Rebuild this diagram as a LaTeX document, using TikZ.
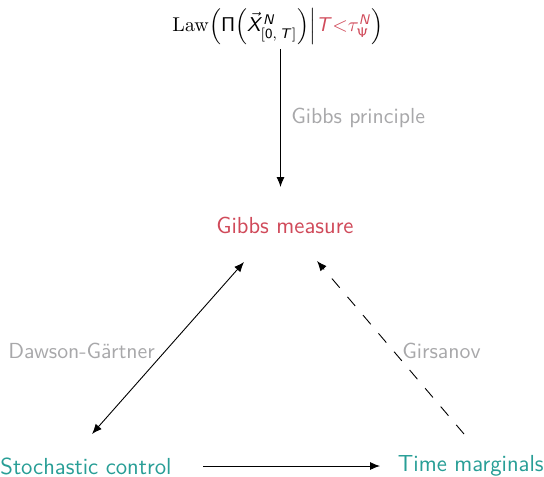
\documentclass[tikz,border=0pt]{standalone}
\usetikzlibrary{arrows.meta}
\DeclareMathAlphabet{\mathsfit}{OT1}{cmss}{m}{sl}
\definecolor{gred}{RGB}{208,74,90}
\definecolor{gteal}{RGB}{40,158,150}
\definecolor{glab}{RGB}{168,168,170}
\tikzset{
  txt/.style={font=\fontsize{11.6}{14}\sffamily, inner sep=0pt},
  lab/.style={font=\fontsize{10.9}{13}\sffamily, inner sep=0pt, text=glab},
  arr/.style={-{Latex[length=5pt,width=4pt]}, line width=0.45pt},
}
\begin{document}
\begin{tikzpicture}[x=0.5pt,y=-0.5pt]
\useasboundingbox (0,0) rectangle (544,476);
\node[font=\fontsize{10.4}{13}\selectfont, inner sep=0pt] (law) at (278,27) {$\mathrm{Law}\!\left(\mathsf{\Pi}\!\left(\vec{\mathsfit{X}}^{\mathsfit{N}}_{[\mathsf{0},\,\mathsfit{T}]}\right)\middle|{\color{gred}\mathsfit{T}{<}\tau^{\mathsfit{N}}_{\mathsf{\Psi}}}\right)$};
\node[txt, text=gred] (gm) at (285,225) {Gibbs measure};
\node[txt, text=gteal, anchor=west] (sc) at (0,466) {Stochastic control};
\node[txt, text=gteal, anchor=east] (tm) at (544,466) {Time marginals};
\coordinate (a1) at (280.5,49);
\coordinate (a2) at (280.5,187);
\draw[arr] (a1) -- (a2);
\node[lab, anchor=west] (lgp) at (291,118) {Gibbs principle};
\coordinate (d1) at (244,262);
\coordinate (d2) at (92,434);
\draw[arr, {Latex[length=5pt,width=4pt]}-{Latex[length=5pt,width=4pt]}] (d1) -- (d2);
\node[lab, anchor=west] (ldg) at (8,351) {Dawson-Gärtner};
\coordinate (g1) at (464,434);
\coordinate (g2) at (317,261);
\draw[arr, dashed, dash pattern=on 6pt off 6pt] (g1) -- (g2);
\node[lab, anchor=west] (lgi) at (402,351) {Girsanov};
\coordinate (b1) at (203,466);
\coordinate (b2) at (380,466);
\draw[arr] (b1) -- (b2);
\end{tikzpicture}
\end{document}
